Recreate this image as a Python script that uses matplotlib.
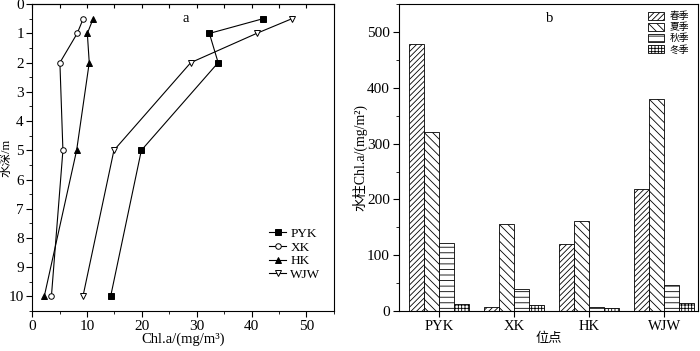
import matplotlib
matplotlib.use("Agg")
import matplotlib.pyplot as plt
import numpy as np
from matplotlib.ticker import MultipleLocator

plt.rcParams['font.family'] = ['Liberation Serif', 'Noto Sans CJK SC']
plt.rcParams['font.size'] = 9
plt.rcParams['hatch.linewidth'] = 0.6
plt.rcParams['axes.linewidth'] = 0.8

# panel a: depth profiles
depths = [0.5, 1, 2, 5, 10]
pyk = [42.0, 32.3, 33.9, 19.9, 14.3]
xk = [9.3, 8.2, 5.05, 5.6, 3.5]
hk = [11.1, 10.05, 10.4, 8.1, 2.2]
wjw = [47.3, 40.9, 28.9, 14.9, 9.25]

# panel b: water column Chl.a by season
sites = ["PYK", "XK", "HK", "WJW"]
seasons = ["春季", "夏季", "秋季", "冬季"]
spring = [478, 8, 120, 218]
summer = [321, 156, 162, 380]
autumn = [122, 40, 6.5, 46]
winter = [12, 11, 6, 15]

fig = plt.figure(figsize=(7.0, 3.51), dpi=100)
ax_a = fig.add_axes([0.046, 0.114, 0.431, 0.874])
ax_b = fig.add_axes([0.570, 0.114, 0.427, 0.874])

# ---- panel a
styles = [
	("PYK", pyk, dict(marker="s", mfc="black")),
	("XK", xk, dict(marker="o", mfc="white")),
	("HK", hk, dict(marker="^", mfc="black")),
	("WJW", wjw, dict(marker="v", mfc="white")),
]
for name, vals, st in styles:
	ax_a.plot(vals, depths, color="black", lw=0.8, ms=4, mec="black",
			  mew=0.7, label=name, **st)

ax_a.set_xlim(0, 55)
ax_a.set_ylim(10.5, 0)
ax_a.xaxis.set_major_locator(MultipleLocator(10))
ax_a.xaxis.set_minor_locator(MultipleLocator(5))
ax_a.yaxis.set_major_locator(MultipleLocator(1))
ax_a.yaxis.set_minor_locator(MultipleLocator(0.5))
ax_a.tick_params(which="both", direction="out", top=False, right=False)
ax_a.tick_params(which="major", length=4, pad=2.5)
ax_a.tick_params(which="minor", length=2)
ax_a.tick_params(labelsize=11)
ax_a.tick_params(axis="y", pad=2)
top = ax_a.secondary_xaxis("top")
top.xaxis.set_major_locator(MultipleLocator(5))
top.tick_params(direction="in", length=3, labeltop=False)
ax_a.set_xlabel("Chl.a/(mg/m³)", fontsize=10.5, labelpad=0)
ax_a.set_ylabel("水深/m", fontsize=9)
ax_a.yaxis.set_label_coords(-0.066, 0.5)
ax_a.text(27.9, 0.5, "a", ha="center", va="center", fontsize=10.5)
ax_a.legend(loc="lower right", bbox_to_anchor=(0.995, 0.06), frameon=False,
			fontsize=9.5, handlelength=1.3, handletextpad=0.3, labelspacing=0.1)

# ---- panel b
x = np.arange(1, len(sites) + 1)
w = 0.2
hatches = ["//////", "\\\\\\\\", "---", "+++++"]
series = [spring, summer, autumn, winter]
for i, (name, vals) in enumerate(zip(seasons, series)):
	ax_b.bar(x + (i - 1.5) * w, vals, width=w, color="white", edgecolor="black",
			 lw=0.6, hatch=hatches[i], label=name)

ax_b.set_xlim(0.47, 4.45)
ax_b.set_ylim(0, 550)
ax_b.set_xticks(x)
ax_b.set_xticklabels(sites)
ax_b.yaxis.set_major_locator(MultipleLocator(100))
ax_b.yaxis.set_minor_locator(MultipleLocator(50))
ax_b.tick_params(which="both", direction="out", top=False, right=False)
ax_b.tick_params(which="major", length=4, pad=2.5)
ax_b.tick_params(which="minor", length=2)
ax_b.tick_params(axis="y", labelsize=11)
ax_b.tick_params(axis="x", labelsize=10.5)
ax_b.set_xlabel("位点", fontsize=9.5, labelpad=0)
ax_b.set_ylabel("水柱Chl.a/(mg/m²)", fontsize=10)
ax_b.yaxis.set_label_coords(-0.105, 0.5)
ax_b.text(2.48, 524, "b", ha="center", va="center", fontsize=10.5)
ax_b.legend(loc="upper right", bbox_to_anchor=(0.99, 0.995), frameon=False,
			fontsize=7, handlelength=1.6, handleheight=0.9, handletextpad=0.6,
			labelspacing=0.15, borderaxespad=0.2)

fig.savefig("out.png", dpi=100)
